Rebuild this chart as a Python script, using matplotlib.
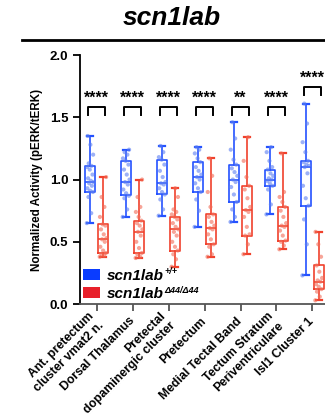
import numpy as np
import matplotlib
matplotlib.use("Agg")
import matplotlib.pyplot as plt
from matplotlib.patches import Patch
from matplotlib.lines import Line2D

plt.rcParams['font.family'] = ['Liberation Sans', 'DejaVu Sans']
plt.rcParams['font.weight'] = 'bold'

# ---- data ----
regions = ["Ant. pretectum\ncluster vmat2 n.", "Dorsal Thalamus",
           "Pretectal\ndopaminergic cluster", "Pretectum",
           "Medial Tectal Band", "Tectum Stratum\nPeriventriculare",
           "Isl1 Cluster 1"]
signif = ["****", "****", "****", "****", "**", "****", "****"]
genotypes = ["scn1lab", "scn1lab"]
superscripts = ["+/+", "\u039444/\u039444"]

# box stats: min, q1, median, q3, max
wt_min = [0.65, 0.70, 0.71, 0.62, 0.66, 0.72, 0.23]
wt_q1 = [0.90, 0.875, 0.88, 0.90, 0.82, 0.95, 0.79]
wt_med = [0.98, 0.98, 0.97, 1.02, 1.00, 1.00, 1.10]
wt_q3 = [1.11, 1.15, 1.16, 1.14, 1.12, 1.08, 1.15]
wt_max = [1.35, 1.24, 1.27, 1.26, 1.46, 1.26, 1.61]

mut_min = [0.38, 0.37, 0.30, 0.38, 0.40, 0.44, 0.03]
mut_q1 = [0.41, 0.41, 0.43, 0.48, 0.55, 0.51, 0.12]
mut_med = [0.52, 0.58, 0.60, 0.61, 0.755, 0.63, 0.18]
mut_q3 = [0.64, 0.67, 0.70, 0.72, 0.95, 0.78, 0.31]
mut_max = [1.02, 1.00, 0.93, 1.17, 1.34, 1.21, 0.58]

# individual fish
wt_pts = [
    [0.65, 0.73, 0.86, 0.90, 0.91, 0.93, 0.95, 0.97, 0.98, 0.99, 1.01, 1.04, 1.08, 1.10, 1.11, 1.13, 1.20, 1.28, 1.35],
    [0.70, 0.76, 0.85, 0.87, 0.89, 0.92, 0.96, 0.98, 1.00, 1.04, 1.08, 1.12, 1.15, 1.17, 1.20, 1.22, 1.24],
    [0.71, 0.76, 0.84, 0.88, 0.90, 0.93, 0.96, 0.97, 0.98, 1.02, 1.07, 1.12, 1.16, 1.18, 1.22, 1.27],
    [0.62, 0.75, 0.84, 0.90, 0.93, 0.97, 1.00, 1.02, 1.04, 1.07, 1.10, 1.14, 1.17, 1.21, 1.24, 1.26],
    [0.66, 0.70, 0.76, 0.82, 0.88, 0.94, 0.98, 1.00, 1.03, 1.06, 1.09, 1.12, 1.16, 1.24, 1.33, 1.46],
    [0.72, 0.80, 0.92, 0.95, 0.97, 0.99, 1.00, 1.01, 1.03, 1.05, 1.08, 1.10, 1.15, 1.22, 1.26],
    [0.23, 0.48, 0.68, 0.79, 0.85, 0.95, 1.05, 1.10, 1.11, 1.12, 1.14, 1.15, 1.22, 1.30, 1.45, 1.61],
]
mut_pts = [
    [0.38, 0.39, 0.40, 0.41, 0.43, 0.46, 0.50, 0.52, 0.53, 0.56, 0.60, 0.63, 0.64, 0.70, 0.78, 0.86, 1.02],
    [0.37, 0.38, 0.40, 0.41, 0.45, 0.50, 0.55, 0.58, 0.60, 0.63, 0.65, 0.67, 0.70, 0.74, 0.78, 0.86, 1.00],
    [0.30, 0.36, 0.40, 0.43, 0.46, 0.50, 0.55, 0.58, 0.60, 0.62, 0.65, 0.68, 0.70, 0.72, 0.74, 0.76, 0.86, 0.93],
    [0.38, 0.40, 0.46, 0.48, 0.52, 0.56, 0.60, 0.61, 0.63, 0.66, 0.70, 0.72, 0.78, 0.90, 1.03, 1.17],
    [0.40, 0.48, 0.55, 0.56, 0.62, 0.70, 0.74, 0.755, 0.78, 0.85, 0.92, 0.95, 1.02, 1.15, 1.34],
    [0.44, 0.47, 0.50, 0.51, 0.55, 0.59, 0.62, 0.63, 0.65, 0.70, 0.75, 0.78, 0.82, 0.86, 0.90, 1.21],
    [0.03, 0.06, 0.10, 0.12, 0.14, 0.16, 0.18, 0.19, 0.21, 0.26, 0.31, 0.38, 0.48, 0.58],
]

blue = '#2452ff'
red = '#f0412c'
blue_pt = '#5b7ef2'
red_pt = '#f26a55'

fig = plt.figure(figsize=(3.25, 4.2), dpi=100)
ax = fig.add_axes([0.246, 0.276, 0.754, 0.593])

x = np.arange(len(regions))
off = 0.18


def draw_group(pos, mins, q1s, meds, q3s, maxs, pts, col, pcol):
    stats = [dict(whislo=a, q1=b, med=c, q3=d, whishi=e, fliers=[])
             for a, b, c, d, e in zip(mins, q1s, meds, q3s, maxs)]
    ax.bxp(stats, positions=pos, widths=0.28, showfliers=False,
           capwidths=0.16,
           boxprops=dict(color=col, linewidth=1.2),
           medianprops=dict(color=col, linewidth=1.2),
           whiskerprops=dict(color=col, linewidth=1.2),
           capprops=dict(color=col, linewidth=1.6),
           manage_ticks=False)
    for p, vals in zip(pos, pts):
        n = len(vals)
        jit = (((np.arange(n) * 0.618) % 1.0) - 0.5) * 0.2
        ax.scatter(p + jit, vals, s=9, color=pcol, alpha=0.6,
                   edgecolors='none', zorder=3)


draw_group(x - off, wt_min, wt_q1, wt_med, wt_q3, wt_max, wt_pts, blue, blue_pt)
draw_group(x + off, mut_min, mut_q1, mut_med, mut_q3, mut_max, mut_pts, red, red_pt)

# significance brackets
for i, s in enumerate(signif):
    top = max(wt_max[i], mut_max[i])
    base = 1.52 if top < 1.5 else 1.68
    h = 0.06
    ax.plot([i - 0.24, i - 0.24, i + 0.24, i + 0.24],
            [base, base + h, base + h, base], color='black', lw=1.4,
            clip_on=False)
    ax.text(i, base + h + 0.015, s, ha='center', va='bottom',
            fontsize=11.5, fontweight='bold')

ax.set_xlim(-0.47, 6.35)
ax.set_ylim(0, 2.0)
ax.set_yticks([0, 0.5, 1.0, 1.5, 2.0])
ax.set_yticklabels(['0.0', '0.5', '1.0', '1.5', '2.0'], fontsize=9.5,
                   fontweight='bold')
ax.set_xticks(x)
ax.set_xticklabels(regions, rotation=45, ha='right', va='center',
                   rotation_mode='anchor', fontsize=8.8, fontweight='bold',
                   multialignment='right')
ax.tick_params(axis='x', length=5, width=1.3, color='#555555', pad=6)
ax.tick_params(axis='y', length=5, width=1.3)
ax.spines['top'].set_visible(False)
ax.spines['right'].set_visible(False)
ax.spines['left'].set_linewidth(1.3)
ax.spines['bottom'].set_linewidth(1.3)
ax.spines['bottom'].set_color('#555555')
ax.set_ylabel('Normalized Activity (pERK/tERK)', fontsize=8.4,
              fontweight='bold', labelpad=5)

handles = [Patch(facecolor='#0a3cff', edgecolor='none'),
           Patch(facecolor='#e8202a', edgecolor='none')]
leg = ax.legend(handles, genotypes, loc='lower left',
                bbox_to_anchor=(-0.025, -0.025), frameon=False,
                prop=dict(family='Liberation Sans', weight='bold',
                          style='italic', size=11),
                handlelength=1.1, handleheight=0.75, handletextpad=0.45,
                labelspacing=0.3, borderaxespad=0.2)
fig.canvas.draw()
for t, sup in zip(leg.get_texts(), superscripts):
    ax.annotate(sup, xy=(1.0, 0.78), xycoords=t, ha='left', va='center',
                fontsize=6.5, fontweight='bold', fontstyle='italic',
                xytext=(0.5, 0), textcoords='offset points')

fig.text(0.53, 0.958, 'scn1lab', ha='center', va='center', fontsize=19,
         fontweight='bold', fontstyle='italic')
fig.add_artist(Line2D([0.068, 1.0], [0.905, 0.905], color='black', lw=2))

fig.savefig('out.png', dpi=100)
